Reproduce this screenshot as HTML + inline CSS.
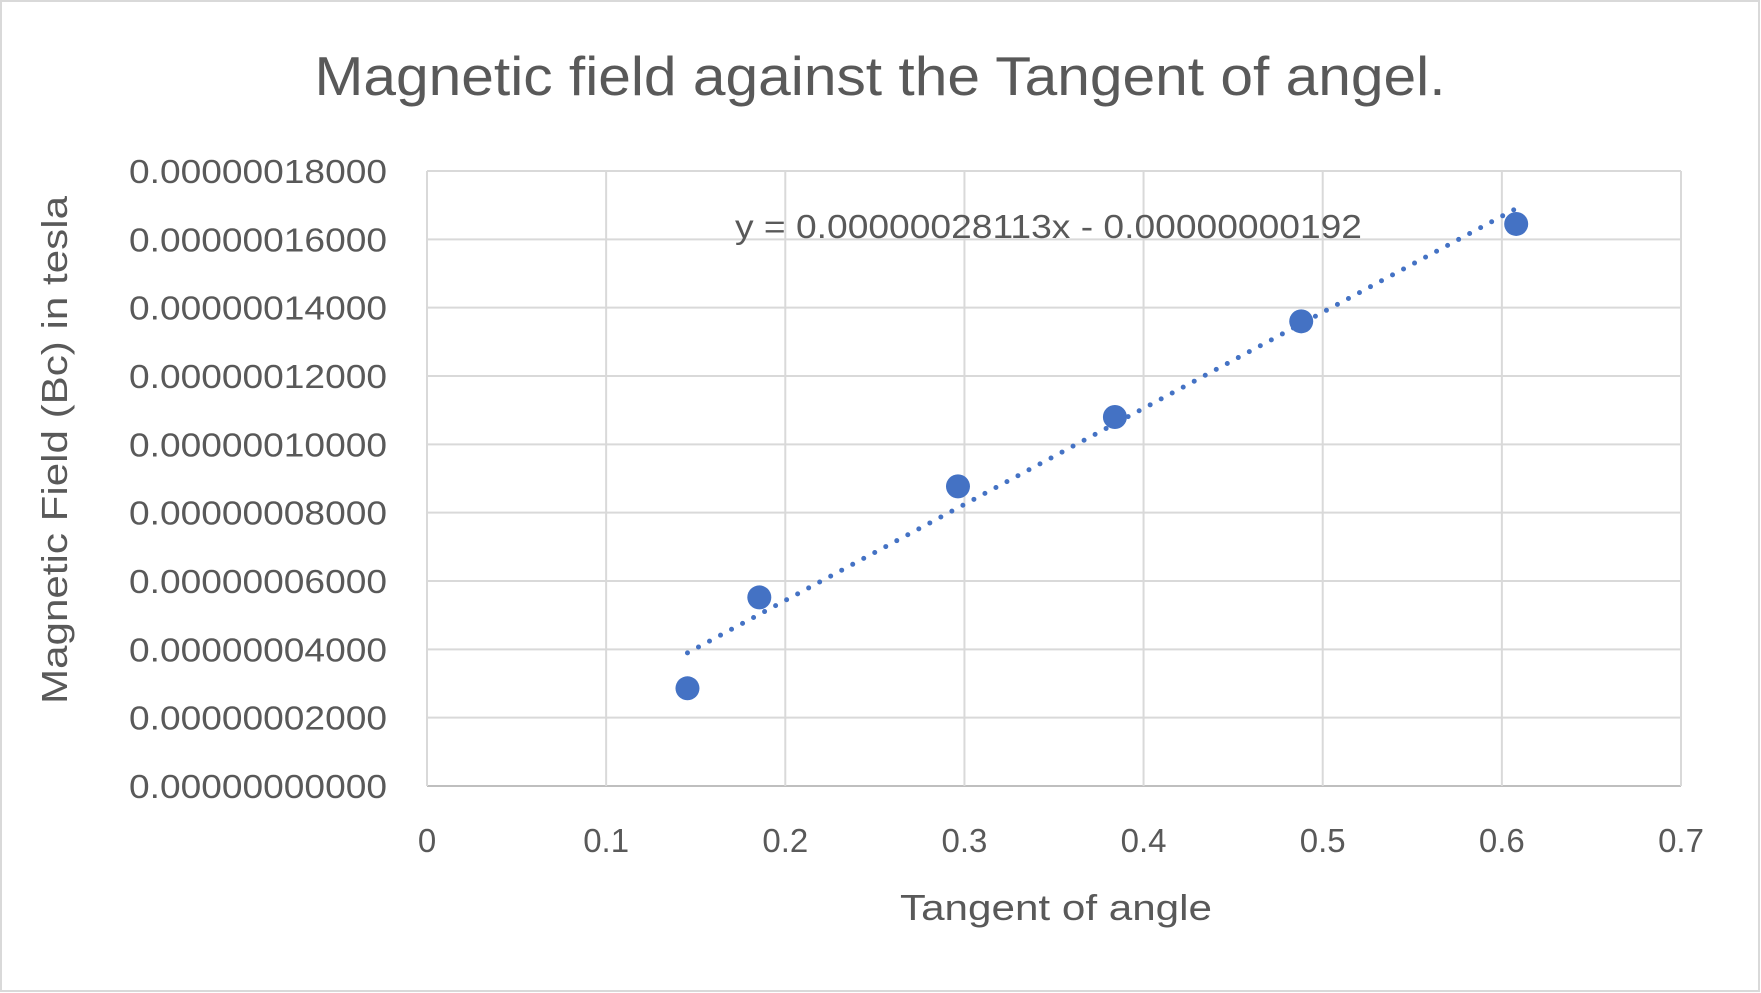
<!DOCTYPE html>
<html><head><meta charset="utf-8"><style>
html,body{margin:0;padding:0;background:#fff;}
svg{display:block;font-family:"Liberation Sans",sans-serif;}
</style></head><body>
<svg id="chart" width="1761" height="993" viewBox="0 0 1761 993">
<rect x="1" y="1" width="1758" height="990" fill="#fff" stroke="#d9d9d9" stroke-width="2"/>
<text x="880" y="95" text-anchor="middle" font-size="55" textLength="1131" lengthAdjust="spacingAndGlyphs" fill="#595959">Magnetic field against the Tangent of angel.</text>
<g id="grid"></g>
<g id="ylabels"></g>
<g id="xlabels"></g>
<g id="trend"></g>
<g id="points"></g>
<text x="1056" y="920" text-anchor="middle" font-size="36" textLength="312" lengthAdjust="spacingAndGlyphs" fill="#595959">Tangent of angle</text>
<text transform="translate(67,450) rotate(-90)" text-anchor="middle" font-size="36" textLength="508" lengthAdjust="spacingAndGlyphs" fill="#595959">Magnetic Field (Bc)  in tesla</text>
<text x="735" y="238" font-size="33" textLength="627" lengthAdjust="spacingAndGlyphs" fill="#595959">y = 0.00000028113x - 0.00000000192</text>
</svg>
<script>
const xTicks=[0,0.1,0.2,0.3,0.4,0.5,0.6,0.7];
const xTickLabels=["0","0.1","0.2","0.3","0.4","0.5","0.6","0.7"];
const yTicks=[0,2e-8,4e-8,6e-8,8e-8,10e-8,12e-8,14e-8,16e-8,18e-8];
const yTickLabels=["0.00000000000","0.00000002000","0.00000004000","0.00000006000","0.00000008000","0.00000010000","0.00000012000","0.00000014000","0.00000016000","0.00000018000"];
const tanValues=[0.1454,0.1855,0.2964,0.384,0.488,0.608];
const fieldValues=[2.86e-8,5.52e-8,8.77e-8,10.8e-8,13.6e-8,16.45e-8];
const slope=2.8113e-7, intercept=-1.92e-9;
const L=427,R=1681,T=171,B=786;
const sx=v=>L+(v-0)/(0.7)*(R-L);
const sy=v=>B-(v/18e-8)*(B-T);
const NS="http://www.w3.org/2000/svg";
function mk(tag,attrs,parent){const e=document.createElementNS(NS,tag);for(const k in attrs)e.setAttribute(k,attrs[k]);parent.appendChild(e);return e;}
const grid=document.getElementById('grid');
yTicks.forEach((t,i)=>{
 const l=mk('line',{x1:L,x2:R,y1:sy(t),y2:sy(t),stroke:i==0?'#bfbfbf':'#d9d9d9','stroke-width':2},grid);
 
 
 const tx=mk('text',{x:387,y:sy(t)+12,'text-anchor':'end','font-size':33,textLength:258,lengthAdjust:'spacingAndGlyphs',fill:'#595959'},document.getElementById('ylabels'));
 tx.textContent=yTickLabels[i];
 
 
});
xTicks.forEach((t,i)=>{
 const l=mk('line',{x1:sx(t),x2:sx(t),y1:T,y2:B,stroke:'#d9d9d9','stroke-width':2},grid);
 
 
 const tx=mk('text',{x:sx(t),y:852,'text-anchor':'middle','font-size':33,fill:'#595959'},document.getElementById('xlabels'));
 tx.textContent=xTickLabels[i];
 
 
});
const x0=Math.min(...tanValues),x1=Math.max(...tanValues);
const tl=mk('line',{x1:sx(x0),y1:sy(slope*x0+intercept),x2:sx(x1),y2:sy(slope*x1+intercept),stroke:'#4472c4','stroke-width':5,'stroke-dasharray':'0 12.5','stroke-linecap':'round'},document.getElementById('trend'));


tanValues.forEach((x,i)=>{
 const c=mk('circle',{cx:sx(x),cy:sy(fieldValues[i]),r:12,fill:'#4472c4'},document.getElementById('points'));
 
 
});
</script>
</body></html>
